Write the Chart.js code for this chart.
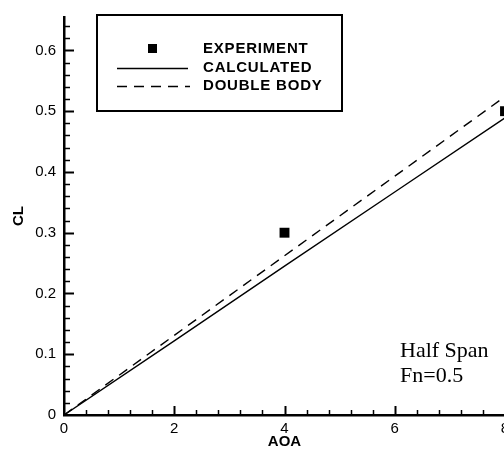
<!DOCTYPE html>
<html>
<head>
<meta charset="utf-8">
<script src="https://cdn.jsdelivr.net/npm/chart.js@4.4.1/dist/chart.umd.min.js"></script>
<style>
  html, body { margin: 0; padding: 0; background: white; overflow: hidden; }
  #wrap { width: 520px; height: 449px; }
</style>
</head>
<body>
<div id="wrap"><canvas id="clCanvas" width="520" height="449"></canvas></div>
<script>
// experiment points
const aoaExp = [4, 8];
const clExp = [0.30, 0.50];

// computed lines
const aoaLine = [0, 2, 4, 6, 8];
const clCalc = [0, 0.122, 0.245, 0.367, 0.489];
const clDouble = [0, 0.131, 0.262, 0.393, 0.524];

// legend and note texts
const legendLabels = ['EXPERIMENT', 'CALCULATED', 'DOUBLE BODY'];
const noteLines = ['Half Span', 'Fn=0.5'];

const toPoints = (xs, ys) => xs.map((x, i) => ({x: x, y: ys[i]}));

// inward tick marks (major + minor)
const tickMarks = {
  id: 'tickMarks',
  afterDraw(chart) {
    const ctx = chart.ctx;
    const xs = chart.scales.x;
    const ys = chart.scales.y;
    const left = chart.chartArea.left;
    const bottom = chart.chartArea.bottom;
    ctx.save();
    ctx.strokeStyle = 'black';
    for (let i = 1; i * 0.02 <= ys.max; i++) {
      const major = i % 5 === 0;
      const py = Math.round(ys.getPixelForValue(i * 0.02)) + 0.5;
      ctx.lineWidth = major ? 2 : 1.5;
      ctx.beginPath();
      ctx.moveTo(left, py);
      ctx.lineTo(left + (major ? 10 : 6), py);
      ctx.stroke();
    }
    for (let i = 1; i <= 20; i++) {
      const major = i % 5 === 0;
      const px = Math.round(xs.getPixelForValue(i * 0.4)) + 0.5;
      ctx.lineWidth = major ? 2 : 1.5;
      ctx.beginPath();
      ctx.moveTo(px, bottom);
      ctx.lineTo(px, bottom - (major ? 9 : 5));
      ctx.stroke();
    }
    ctx.restore();
  }
};

// boxed legend and note
const boxLegend = {
  id: 'boxLegend',
  afterDraw(chart) {
    const ctx = chart.ctx;
    const ds = chart.data.datasets;
    ctx.save();
    ctx.strokeStyle = 'black';
    ctx.lineWidth = 2;
    ctx.strokeRect(97, 15, 245, 96);

    // markers
    ctx.fillStyle = ds[0].backgroundColor;
    ctx.fillRect(148, 44, 9, 9);
    ctx.lineWidth = ds[1].borderWidth;
    ctx.beginPath();
    ctx.moveTo(117, 68.5);
    ctx.lineTo(188, 68.5);
    ctx.stroke();
    ctx.setLineDash(ds[2].borderDash);
    ctx.lineWidth = ds[2].borderWidth;
    ctx.beginPath();
    ctx.moveTo(117, 86.5);
    ctx.lineTo(190, 86.5);
    ctx.stroke();
    ctx.setLineDash([]);

    ctx.fillStyle = 'black';
    ctx.font = 'bold 15px "Liberation Sans", Arial, sans-serif';
    ctx.letterSpacing = '0.8px';
    ctx.textBaseline = 'alphabetic';
    ctx.textAlign = 'left';
    const rows = [53, 72, 90];
    legendLabels.forEach((t, i) => ctx.fillText(t, 203, rows[i]));
    ctx.letterSpacing = '0px';

    // note
    ctx.font = '22px "Liberation Serif", "Times New Roman", serif';
    ctx.fillText(noteLines[0], 400, 357);
    ctx.fillText(noteLines[1], 400, 382);
    ctx.restore();
  }
};

const data = {
  datasets: [{
    label: legendLabels[0],
    data: toPoints(aoaExp, clExp),
    showLine: false,
    pointStyle: 'rect',
    pointRadius: 7,
    backgroundColor: 'black',
    borderColor: 'black',
    borderWidth: 0,
    clip: false
  }, {
    label: legendLabels[1],
    data: toPoints(aoaLine, clCalc),
    showLine: true,
    pointRadius: 0,
    borderColor: 'black',
    borderWidth: 1.4,
    tension: 0
  }, {
    label: legendLabels[2],
    data: toPoints(aoaLine, clDouble),
    showLine: true,
    pointRadius: 0,
    borderColor: 'black',
    borderWidth: 1.4,
    borderDash: [10, 7],
    tension: 0
  }]
};

const tickFont = {family: '"Liberation Sans", Arial, sans-serif', size: 15};

const options = {
  responsive: false,
  animation: false,
  layout: {padding: {top: 10, right: 15, left: 0, bottom: 0}},
  plugins: {
    legend: {display: false},
    tooltip: {enabled: false}
  },
  scales: {
    x: {
      type: 'linear',
      min: 0,
      max: 8,
      afterFit: (scale) => { scale.height = 34; },
      grid: {display: false, drawTicks: false},
      border: {display: true, color: 'black', width: 2.5},
      ticks: {stepSize: 2, color: 'black', font: tickFont, padding: 5},
      title: {
        display: true,
        text: 'AOA',
        color: 'black',
        font: {family: '"Liberation Sans", Arial, sans-serif', size: 15, weight: 'bold', lineHeight: 1},
        padding: {top: 0, bottom: 0}
      }
    },
    y: {
      type: 'linear',
      min: 0,
      max: 0.655,
      afterFit: (scale) => { scale.width = 64; },
      grid: {display: false, drawTicks: false},
      border: {display: true, color: 'black', width: 2.5},
      ticks: {stepSize: 0.1, includeBounds: false, color: 'black', font: tickFont, padding: 8},
      title: {
        display: true,
        text: 'CL',
        color: 'black',
        font: {family: '"Liberation Sans", Arial, sans-serif', size: 15, weight: 'bold', lineHeight: 1},
        padding: {top: 11.5, bottom: 0}
      }
    }
  }
};

new Chart(document.getElementById('clCanvas'), {
  type: 'scatter',
  data: data,
  options: options,
  plugins: [tickMarks, boxLegend]
});
</script>
</body>
</html>
